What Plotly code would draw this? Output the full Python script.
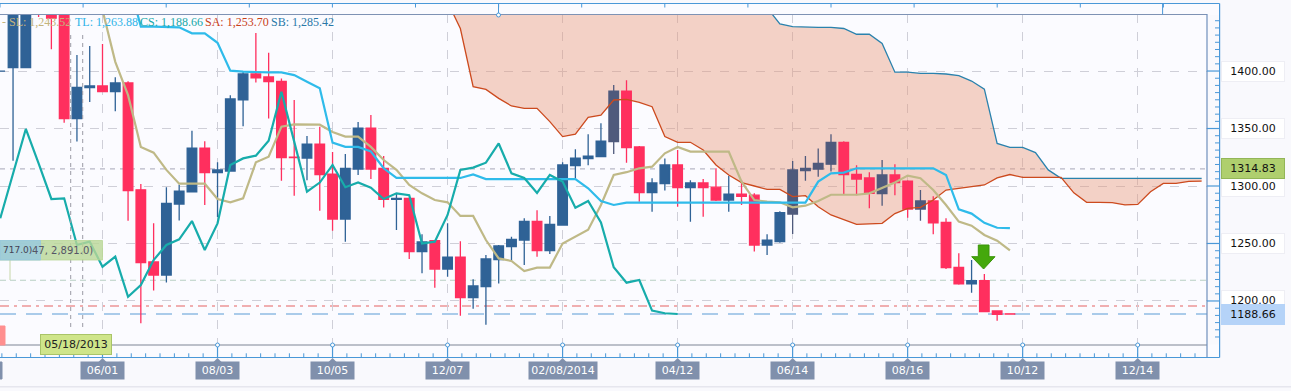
import plotly.graph_objects as go

# ---- data ----
opens = [1400,1403,1403,1470,1470,1470,1358.6,1385.5,1387,1382,1389.6,1296.7,1233.9,1222.6,1284.3,1295,1333,1311.6,1313,1375,
         1397.4,1394.8,1391,1325,1324.3,1336.5,1310.4,1271.3,1314.8,1350.4,1315.4,1288.4,1289.3,1242.9,1252.5,1227.8,1238.2,1202.9,1212.4,1235.9,
         1247.2,1253,1269.3,1243.7,1266,1317.7,1323.8,1325.5,1338.6,1382.6,1333.9,1294.2,1302,1318.3,1298.6,1302.6,1299,1287.8,1293,1292,
         1248.7,1251.6,1275.6,1313.3,1314.8,1319,1338,1310,1307,1293.3,1309.6,1304.3,1280,1287,1268.4,1229.3,1214.8,1217.7,1191.3,1188.8]
highs = [1400,1470,1470,1470,1470,1470,1414,1421.7,1423.5,1394.5,1391,1301.7,1267.5,1299,1301,1348,1339,1320.6,1379,1399.4,
         1433,1416,1393.6,1374.8,1343.5,1351.6,1329.6,1327.8,1355.6,1361.7,1326,1293,1290,1258,1253,1267.5,1252,1218.8,1240,1248.7,
         1255.9,1271.9,1279,1273.9,1320.6,1332,1345,1354.5,1387.8,1392,1334.8,1306.7,1324,1331.3,1305,1306,1315.4,1309,1305,1293.6,
         1258,1278,1321.7,1326,1332.7,1345,1339,1318,1312,1322.6,1319,1305,1296.5,1291,1271.9,1241.4,1235.6,1223.5,1191.3,1188.8]
lows = [1400,1322,1403,1447,1419,1355,1338.6,1373,1382,1365,1269.8,1180.6,1209,1216,1270,1295,1283.5,1273,1313,1352,
        1390,1358.6,1304.6,1291.6,1305,1278.5,1261,1251.6,1309.6,1306,1281.4,1261.7,1236.5,1224,1211.6,1221,1187.2,1193.3,1179.4,1215.3,
        1234,1231.3,1238.5,1240.8,1266,1306.7,1318,1325,1327.8,1320.3,1286.4,1277.7,1296,1282,1269,1273.3,1287,1277.7,1283.5,1243,
        1240,1250.7,1258.2,1304.6,1308,1312.5,1293,1292,1280.6,1282.9,1292,1272.4,1269.8,1258,1227.8,1214.2,1207.2,1190.7,1182.9,1188.4]
closes = [1400,1460,1460,1460,1446,1358.6,1385.8,1387,1382,1389.6,1296,1233.3,1222.6,1284.9,1295.6,1333,1311.6,1314,1375.7,1397.4,
          1394,1390.7,1324.6,1324.6,1336.5,1309.9,1271.3,1315.4,1350.4,1314.8,1288.4,1289.3,1242.9,1251.3,1227.8,1238.2,1202.9,1213,1236.5,1247.8,
          1253.6,1269.3,1243.7,1266.6,1318.3,1324.3,1326,1339,1382.6,1333.3,1294.2,1302.6,1318.3,1298.6,1302.6,1298.6,1287.8,1293,1291,1248.7,
          1253,1276.8,1313.9,1315.4,1319.7,1338,1310,1306,1293.6,1309.6,1303,1280,1287,1268,1229,1214.8,1217.7,1190.7,1188.4,1188.66]
# candles that show darker where they sit on the cloud
on_cloud = [48,62,63,64,65,69,72]

cs = [1271.9,1311.3,1349.6,1319.7,1288.7,1289.3,1248.7,1251.6,1229.8,1238.5,1203.7,1213.9,1235.6,1248.7,1253.6,1269.5,1244.3,1267.5,1318.3,1324,
      1326.4,1339.4,1382,1338.6,1295,1303,1318.3,1298.9,1303,1298.6,1288.7,1293.6,1292,1250,1251.6,1274.8,1314,1316,1320.3,1337,
      1311,1307,1294,1309.6,1303.8,1281,1287,1268.4,1229.3,1215.9,1218.2,1191.6,1189.3,1188.66]
sl = [None]*8 + [1453,1408,1379,1334,1329,1314,1302,1302,1302,1288.7,1285.8,1289.3,1320.6,1325.5,1351.6,1353.6,1353.3,1353.3,1347,1343,1343,1334,
      1322.6,1314,1301,1293.6,1287.8,1285.8,1274,1274,1253,1237,1234.8,1226,1229,1229,1250,1256,1262,1283.5,1309.6,1312,1315.4,1316.8,1328.4,1334,
      1329.9,1329.9,1329.9,1329.9,1303.8,1287.8,1286.4,1285.8,1281.4,1282.9,1287,1292.4,1292.4,1292.4,1293.6,1298,1303,1309,1306.7,1296.5,1283.5,1269,1265.5,1257.4,1252.4,1244]
tl = [None]*10 + [1480,1438.6,1438.6,1438.6,1438,1432.8,1432.8,1424.6,1400.3,1399.4,1398.8,1398.8,1398.8,1396.5,1390.7,1385,1337.7,1334,1334,1330,
      1315.4,1307,1307,1307,1307,1307,1307,1310,1306,1306,1306,1306,1306,1306,1306,1306,1298,1287,1283.5,1285.5,1285.5,1285.5,1285.5,1285.5,1285.5,1285.5,
      1285.5,1285.5,1285.5,1285.5,1285.5,1285.5,1285.5,1285.5,1303.8,1311,1311.6,1315.4,1315.4,1315.4,1315.4,1315.4,1315.4,1315.4,1309.6,1279.7,1276,1268,1263.7,1263.4]
sa = [None]*35 + [1460,1437,1386.4,1384,1376.2,1369.6,1367.5,1367.5,1356,1343,1345,1359.7,1361.7,1374.8,1375.4,1372.8,1369,1343,1338,1338,1331.3,1318.3,1309.6,1303,1300,1297,1297,1290.7,
      1291.6,1282,1274.8,1270.4,1266.6,1267,1267.5,1276,1280.6,1281.4,1287.8,1296.5,1298,1300,1300.9,1307,1310,1307.5,1307.5,1307.5,1307.5,1294,1285.8,1285.8,1285.5,1283.5,1284,1295,1302.3,1302.3,1304,1304.3]
sb = [None]*35 + [1470]*25 + [1455,1441,1438.6,1438,1438,1438,1437,1432,1432,1424,1399,1399,1398,1398,1397.4,1396,1391.3,1384.3,1337,1333.6,1333.6,1329,1314,1306.7,
      1306.7,1306.7,1306.7,1306.7,1306.7,1306.7,1306.7,1306.7,1306.7,1306.7,1306.7]

y_ticks = [1200, 1250, 1300, 1350, 1400]
y_labels = ["1200.00", "1250.00", "1300.00", "1350.00", "1400.00"]
x_ticks = [8, 17, 26, 35, 44, 53, 62, 71, 80, 89]
x_labels = ["06/01", "08/03", "10/05", "12/07", "02/08/2014", "04/12", "06/14", "08/16", "10/12", "12/14"]
last_price = 1314.83
last_close = 1188.66
level_green = 1218
level_red = 1195.6
legend_items = [("- SL: 1,243.52", "#C4B47C", 0), ("TL: 1,263.88", "#2FB4E8", 73), ("CS: 1,188.66", "#17A8A8", 138),
                ("SA: 1,253.70", "#C8401A", 203), ("SB: 1,285.42", "#2A78A8", 269)]

# ---- colours ----
RED, BLUE, DARK = "#FF2F5E", "#2F6296", "#4F5A7C"
W, H, PW, TOP, BOT = 1291, 391, 1207, 14, 345
Y_RANGE = [1161.7, 1449.6]

def px(v):
    return v / PW
def py(v):
    return (BOT - v) / (BOT - TOP)

idx = list(range(len(opens)))
main = [i for i in idx if i not in on_cloud]

fig = go.Figure()
# cloud on the lower axis, everything else on the overlaid axis so it paints above the cloud
fig.add_trace(go.Scatter(x=list(range(len(sb))), y=sb, mode="lines", line=dict(width=0)))
fig.add_trace(go.Scatter(x=list(range(len(sa))), y=sa, mode="lines", line=dict(width=0),
                         fill="tonexty", fillcolor="rgba(230,150,120,0.42)"))

def candles(ix, up, dn):
    return go.Candlestick(x=ix, open=[opens[i] for i in ix], high=[highs[i] for i in ix], low=[lows[i] for i in ix],
                          close=[closes[i] for i in ix], whiskerwidth=0, yaxis="y2",
                          increasing=dict(line=dict(color=up, width=1.3), fillcolor=up),
                          decreasing=dict(line=dict(color=dn, width=1.3), fillcolor=dn))
fig.add_trace(candles(main, BLUE, RED))
fig.add_trace(candles(on_cloud, DARK, RED))
for vals, col, wid in [(sb, "#2A82AD", 1.3), (sa, "#CC4A1E", 1.3), (sl, "#BFB987", 2.2), (tl, "#2FBBEA", 2.2), (cs, "#17ACAB", 2.2)]:
    fig.add_trace(go.Scatter(x=list(range(len(vals))), y=vals, mode="lines", yaxis="y2", line=dict(color=col, width=wid)))

shapes, ann = [], []
def line(x0, y0, x1, y1, c, w=1, dash="solid", layer="above"):
    shapes.append(dict(type="line", xref="paper", yref="paper", x0=px(x0), y0=py(y0), x1=px(x1), y1=py(y1),
                       line=dict(color=c, width=w, dash=dash), layer=layer))
def rect(x0, y0, x1, y1, fill, c=None, layer="above"):
    shapes.append(dict(type="rect", xref="paper", yref="paper", x0=px(x0), y0=py(y0), x1=px(x1), y1=py(y1),
                       fillcolor=fill, line=dict(color=c or fill, width=1), layer=layer))
def hlevel(val, c, w, dash):
    shapes.append(dict(type="line", xref="paper", yref="y", x0=0, x1=1, y0=val, y1=val, line=dict(color=c, width=w, dash=dash), layer="below"))

hlevel(last_price, "#B8B8C6", 1.2, "5px,5px")
hlevel(level_green, "#B9CFC4", 1.2, "6px,4px")
hlevel(level_red, "#F0AEB0", 2, "9px,5px,3px,5px")
hlevel(last_close, "#5A9BD5", 1.2, "16px,10px")

# chart frame
rect(0, 3.5, 1219.6, 14.5, "#FBFBFF", "#FBFBFF")
rect(0, 345, 1219.6, 357.5, "#FBFBFF", "#FBFBFF")
line(0, 3.5, 1219.6, 3.5, "#4A98D8", 1.2)
line(0, 14.5, 1207, 14.5, "#7E92B4", 1.2)
line(0, 345, 1207, 345, "#7E8696", 1.2)
line(0, 357.5, 1219.6, 357.5, "#4A98D8", 1.2)
line(1207, 14, 1207, 357, "#6F8FBC", 1.2)
line(1219.6, 3.5, 1219.6, 357.5, "#4A98D8", 1.2)
line(0, 386.8, 1291, 386.8, "#E6E6EE", 1.5)
for k in range(15):
    xt = 83.1 * k
    line(xt, 3.5, xt, 7.5, "#4A98D8", 1)
line(498.5, 3.5, 498.5, 15, "#4A98D8", 1)
line(1162.6, 3.5, 1162.6, 14.5, "#4A98D8", 1)
shapes.append(dict(type="circle", xref="paper", yref="paper", x0=px(496.5), x1=px(500.5), y0=py(17), y1=py(13),
                   fillcolor="white", line=dict(color="#4A98D8", width=1)))
# bottom scale
for k in range(-7, 77):
    xt = 102.5 + 14.375 * k
    if xt < 0 or xt > 1207:
        continue
    line(xt, 353.3, xt, 357.5, "#4A98D8", 1)
for t, lab in zip(x_ticks, x_labels):
    xt = 0.26 + 12.78 * t
    line(xt, 345, xt, 357.5, "#4A98D8", 1.2)
    shapes.append(dict(type="circle", xref="paper", yref="paper", x0=px(xt - 2), x1=px(xt + 2), y0=py(347), y1=py(343),
                       fillcolor="white", line=dict(color="#4A98D8", width=1)))
    wid = 66 if len(lab) > 6 else 41
    shapes.append(dict(type="path", xref="paper", yref="paper",
                       path=f"M {px(xt-4)} {py(362)} L {px(xt)} {py(358)} L {px(xt+4)} {py(362)} Z", fillcolor="#8090AC", line=dict(width=0)))
    ann.append(dict(x=px(xt), y=py(370.5), xref="paper", yref="paper", text=lab, showarrow=False, width=wid, height=15,
                    bgcolor="#8090AC", font=dict(family="DejaVu Sans", size=11, color="white"), xanchor="center", yanchor="middle"))
rect(0, 362, 2, 379, "#8090AC")
rect(0, 326, 5, 345, "#FF8F8F")

# right scale
v = 1168.75
while v < 1450:
    if round(v, 2) not in [float(t) for t in y_ticks]:
        yp = TOP + (1449.6 - v) * 1.15
        line(1215, yp, 1219.6, yp, "#4A98D8", 1)
    v += 6.25
for val, lab in zip(y_ticks, y_labels):
    shapes.append(dict(type="line", xref="paper", yref="y", x0=1, x1=1219.6 / PW, y0=val, y1=val, line=dict(color="#4A98D8", width=1.2), layer="above"))
    ann.append(dict(x=1253 / PW, y=val, xref="paper", yref="y", text=lab, showarrow=False, width=60, height=17, bgcolor="white",
                    bordercolor="#EEEEF4", font=dict(family="DejaVu Sans", size=11, color="#111"), xanchor="center", yanchor="middle"))
ann.append(dict(x=1253 / PW, y=last_price, xref="paper", yref="y", text=f"{last_price:.2f}", showarrow=False, width=60, height=17,
                bgcolor="#AFCF6E", bordercolor="#93B658", font=dict(family="DejaVu Sans", size=11, color="#111"), xanchor="center", yanchor="middle"))
ann.append(dict(x=1253 / PW, y=last_close, xref="paper", yref="y", text=f"{last_close:.2f}", showarrow=False, width=60, height=17,
                bgcolor="#B5D3F8", bordercolor="#B5D3F8", font=dict(family="DejaVu Sans", size=11, color="#111"), xanchor="center", yanchor="middle"))

# vertical crosshairs
line(70.7, 35, 70.7, 330, "#9A9AA6", 1, "4px,4px")
line(82.7, 35, 82.7, 330, "#9A9AA6", 1, "4px,4px")

# signal arrow
pts = [(978.3, 245), (989, 245), (989, 256.7), (995, 256.7), (983.6, 269), (971.7, 256.7), (978.3, 256.7)]
path = "M " + " L ".join(f"{px(a)} {py(b)}" for a, b in pts) + " Z"
shapes.append(dict(type="path", xref="paper", yref="paper", path=path, fillcolor="#45A80C", line=dict(color="#3A9408", width=1)))

# tooltips on the left
line(10, 260, 10, 280, "#C6D6A8", 1)
rect(0, 240.5, 102.5, 260, "rgba(185,215,150,0.8)", "rgba(185,215,150,0.8)")
rect(0, 240.5, 40.5, 260, "rgba(150,200,225,0.8)", "rgba(150,200,225,0.8)")
ann.append(dict(x=px(95), y=py(250), xref="paper", yref="paper", text="47, 2,891.0)", showarrow=False, xanchor="right", yanchor="middle",
                font=dict(family="DejaVu Sans", size=10, color="#556")))
ann.append(dict(x=px(0.5), y=py(250), xref="paper", yref="paper", text="717.0)", showarrow=False, xanchor="left", yanchor="middle",
                font=dict(family="DejaVu Sans", size=9, color="#445")))
ann.append(dict(x=px(76), y=py(344), xref="paper", yref="paper", text="05/18/2013", showarrow=False, width=68, height=17,
                bgcolor="#CFE58A", bordercolor="#A9C468", font=dict(family="DejaVu Sans", size=11, color="#222"), xanchor="center", yanchor="middle"))

# indicator read-out
for txt, col, x0 in legend_items:
    ann.append(dict(x=px(x0), y=py(22), xref="paper", yref="paper", text=txt, showarrow=False, xanchor="left", yanchor="middle",
                    font=dict(family="Liberation Serif", size=12, color=col)))

fig.update_layout(
    width=W, height=H, autosize=False, showlegend=False, boxgap=0.25, boxgroupgap=0,
    margin=dict(l=0, r=W - PW, t=TOP, b=H - BOT, pad=0),
    paper_bgcolor="#F9F9FD", plot_bgcolor="#FBFBFF",
    shapes=shapes, annotations=ann,
    xaxis=dict(range=[-0.02, 94.42], tickvals=x_ticks, showticklabels=False, ticks="", showgrid=True, gridcolor="#CFCFD8", griddash="dash",
               gridwidth=1, zeroline=False, showline=False, rangeslider=dict(visible=False)),
    yaxis=dict(range=Y_RANGE, tickvals=y_ticks, showticklabels=False, ticks="", showgrid=True, gridcolor="#CFCFD8", griddash="dash",
               gridwidth=1, zeroline=False, showline=False),
    yaxis2=dict(range=Y_RANGE, overlaying="y", visible=False),
)
fig.write_html("out.html", config=dict(displayModeBar=False), post_script="document.body.style.margin='0';")
